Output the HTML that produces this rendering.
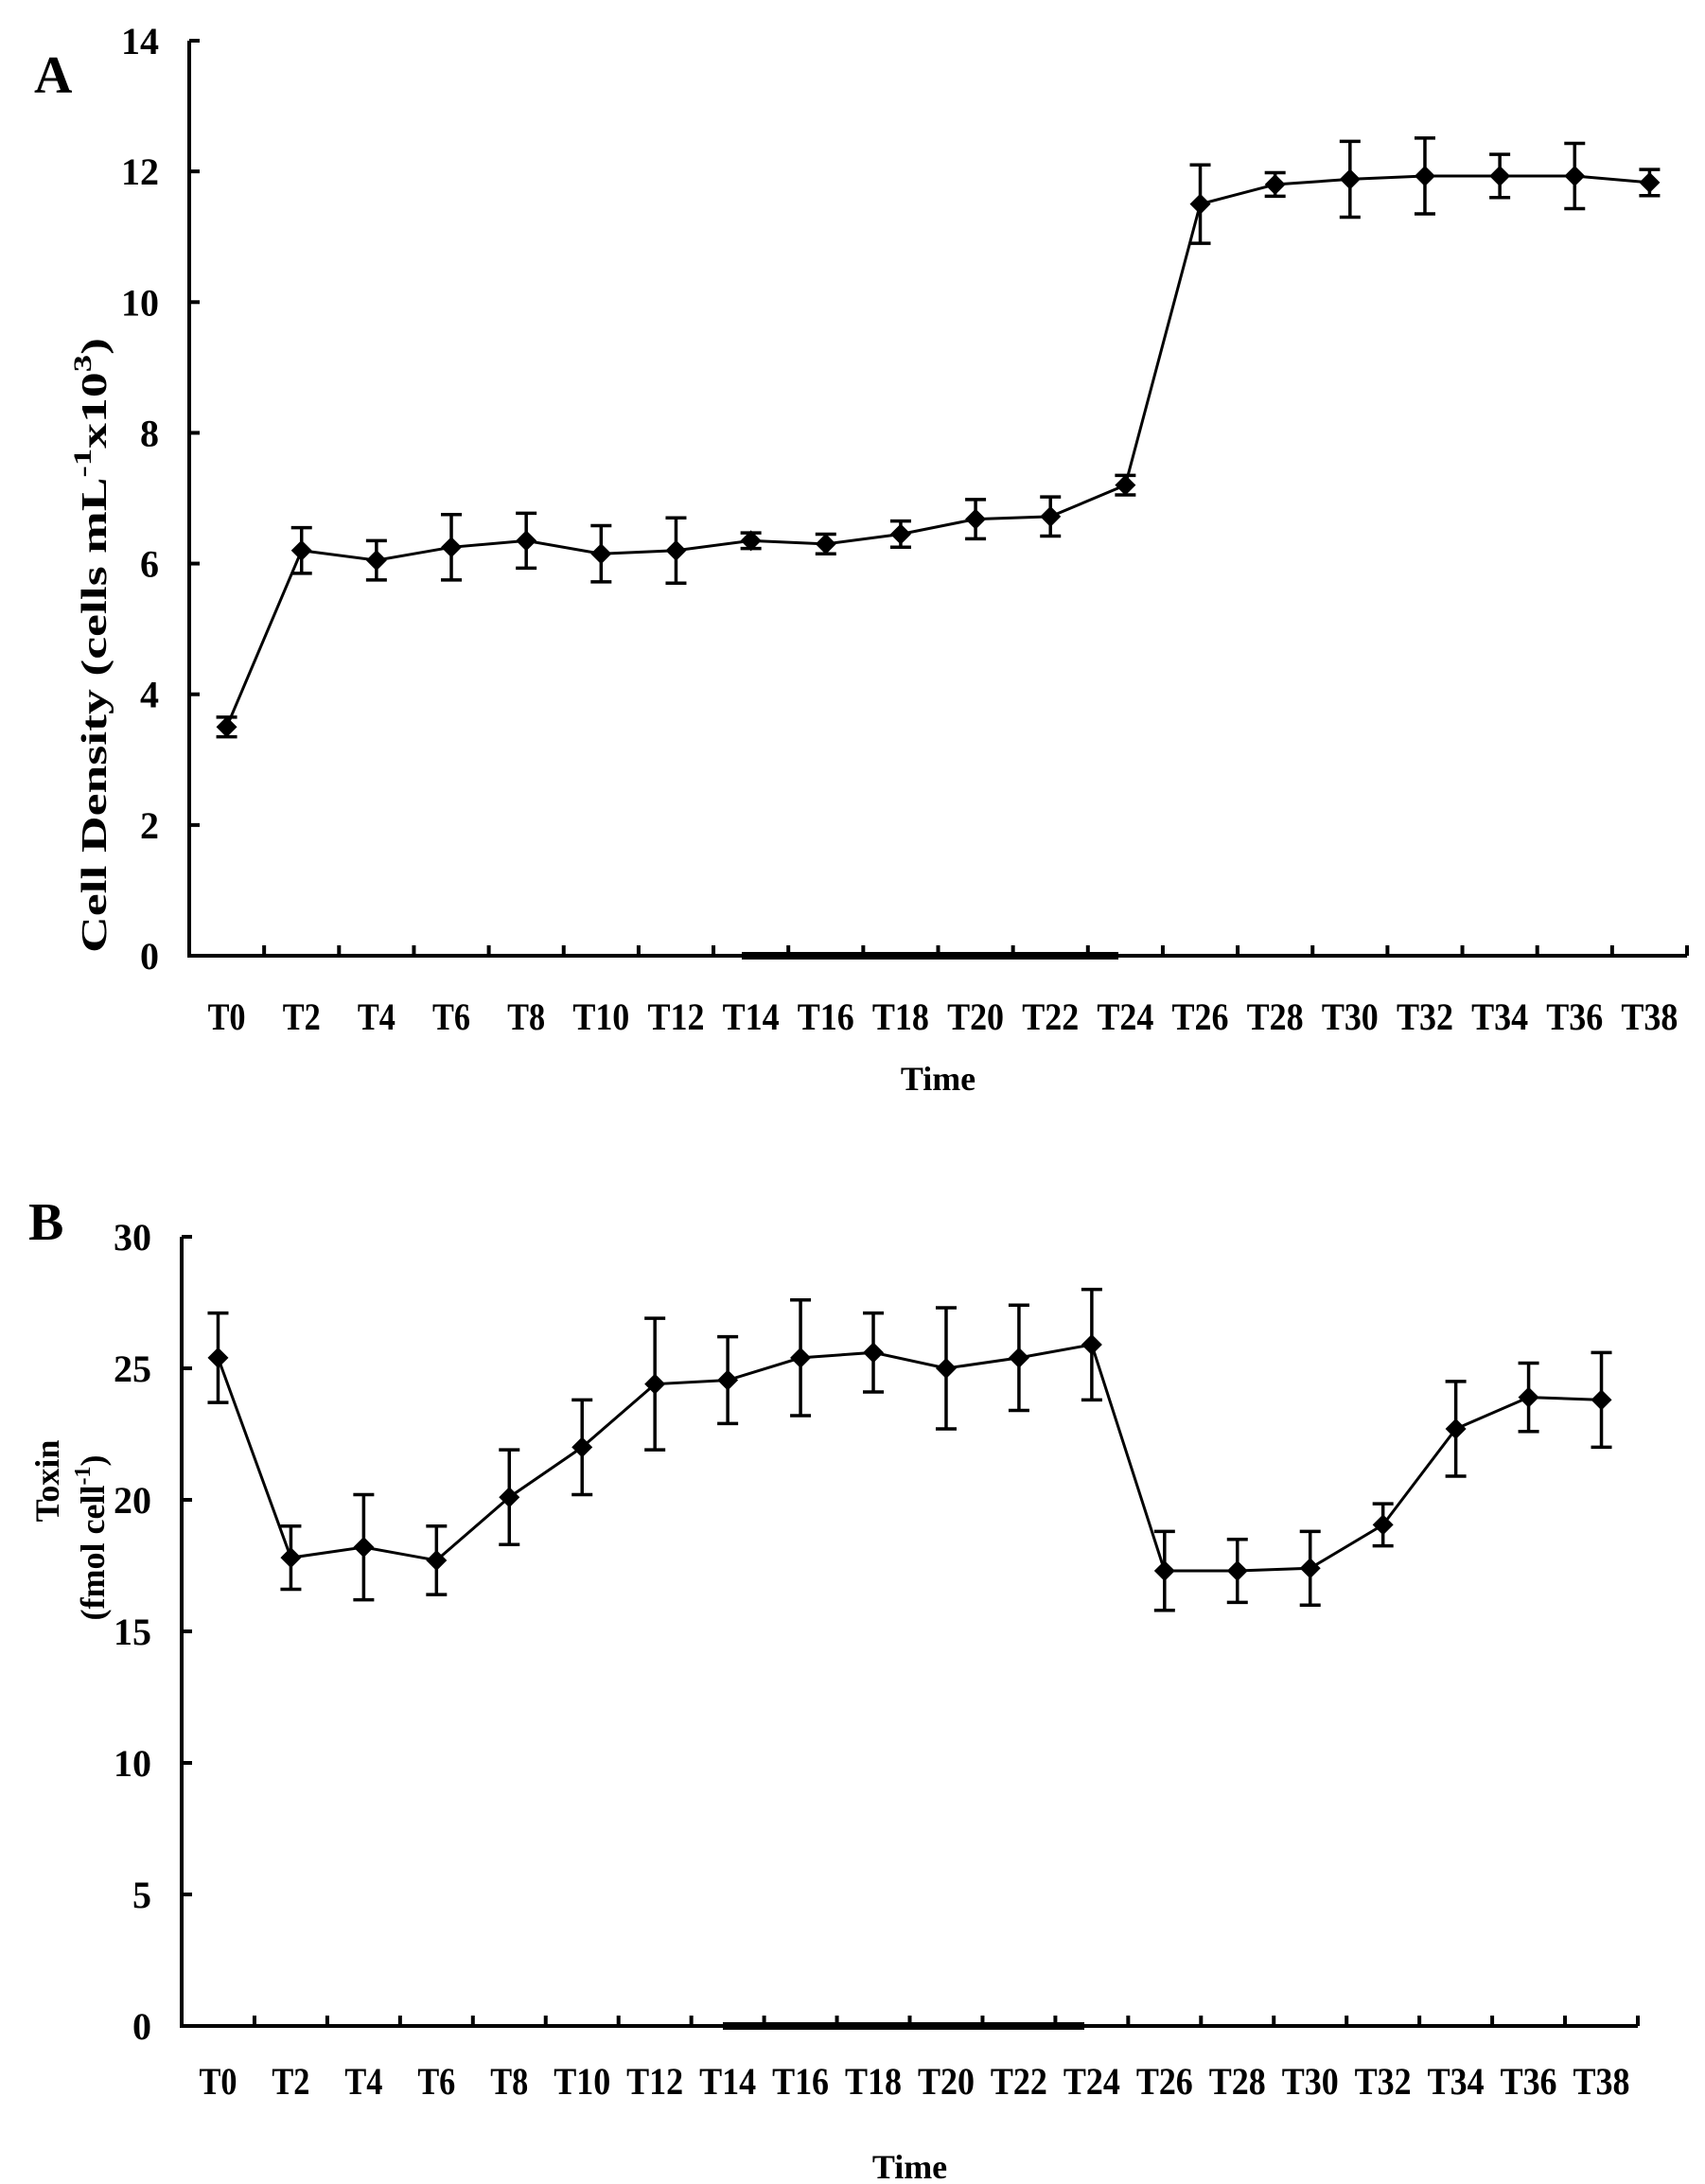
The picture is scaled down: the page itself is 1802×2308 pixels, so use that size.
<!DOCTYPE html>
<html><head><meta charset="utf-8"><style>
html,body{margin:0;padding:0;background:#fff}
svg{display:block}
text{font-family:"Liberation Serif",serif;font-weight:bold;fill:#000}
</style></head><body>
<svg id="fig" width="1802" height="2308" viewBox="0 0 1802 2308" xmlns="http://www.w3.org/2000/svg"></svg>
<script>
const categories = ["T0","T2","T4","T6","T8","T10","T12","T14","T16","T18","T20","T22","T24","T26","T28","T30","T32","T34","T36","T38"];
const densityValues = [3.5,6.2,6.05,6.25,6.35,6.15,6.2,6.35,6.3,6.45,6.68,6.72,7.2,11.5,11.8,11.88,11.93,11.93,11.93,11.83];
const densityErrors = [0.15,0.35,0.3,0.5,0.42,0.43,0.5,0.12,0.15,0.2,0.3,0.3,0.15,0.6,0.18,0.58,0.58,0.33,0.5,0.2];
const densityTicks = [0,2,4,6,8,10,12,14];
const toxinValues = [25.4,17.8,18.2,17.7,20.1,22.0,24.4,24.55,25.4,25.6,25.0,25.4,25.9,17.3,17.3,17.4,19.05,22.7,23.9,23.8];
const toxinErrors = [1.7,1.2,2.0,1.3,1.8,1.8,2.5,1.65,2.2,1.5,2.3,2.0,2.1,1.5,1.2,1.4,0.8,1.8,1.3,1.8];
const toxinTicks = [0,5,10,15,20,25,30];

const NS="http://www.w3.org/2000/svg";
const svg=document.getElementById('fig');
function mk(tag,attrs,parent){const e=document.createElementNS(NS,tag);for(const k in attrs)e.setAttribute(k,attrs[k]);(parent||svg).appendChild(e);return e;}

function panel(p){
  const g=mk('g',{});
  
  
  const n=categories.length, bw=(p.x1-p.x0)/n;
  const xs=i=>p.x0+bw*(i+0.5);
  const ys=v=>p.y0-(v-p.ymin)/(p.ymax-p.ymin)*(p.y0-p.y1);
  const ya=mk('line',{x1:p.x0,y1:p.y1,x2:p.x0,y2:p.y0+1.5,stroke:'#000','stroke-width':4},g);
  
  const xa=mk('line',{x1:p.x0-2,y1:p.y0,x2:p.x1,y2:p.y0,stroke:'#000','stroke-width':4},g);
  
  const sb=mk('line',{x1:p.barA,y1:p.y0,x2:p.barB,y2:p.y0,stroke:'#000','stroke-width':8},g);
  
  p.ticks.forEach(t=>{
    const y=ys(t);
    const tl=mk('line',{x1:p.x0,y1:y,x2:p.x0+11,y2:y,stroke:'#000','stroke-width':4},g);
    
    const tx=mk('text',{x:p.x0-32,y:y+14,'text-anchor':'end','font-size':40},g);
    tx.textContent=t;
    
  });
  for(let i=1;i<=n;i++){
    const x=p.x0+bw*i;
    const tl=mk('line',{x1:x,y1:p.y0,x2:x,y2:p.y0-11,stroke:'#000','stroke-width':4},g);
    
  }
  categories.forEach((c,i)=>{
    const tx=mk('text',{x:xs(i),y:p.labY,'text-anchor':'middle','font-size':40,'textLength':c.length*20,'lengthAdjust':'spacingAndGlyphs'},g);
    tx.textContent=c;
    
  });
  const pts=p.vals.map((v,i)=>xs(i)+','+ys(v)).join(' ');
  const pl=mk('polyline',{points:pts,fill:'none',stroke:'#000','stroke-width':3},g);
  
  p.vals.forEach((v,i)=>{
    const x=xs(i),y=ys(v),e=p.errs[i];
    const yt=ys(v+e),yb=ys(v-e);
    const eb=mk('path',{d:`M${x},${yt}V${yb}M${x-11},${yt}H${x+11}M${x-11},${yb}H${x+11}`,stroke:'#000','stroke-width':3.5,fill:'none'},g);
    
    const d=mk('polygon',{points:`${x},${y-11} ${x+11},${y} ${x},${y+11} ${x-11},${y}`,fill:'#000'},g);
    
  });
  const xt=mk('text',{x:(p.x0+p.x1)/2,y:p.timeY,'text-anchor':'middle','font-size':36},g);
  xt.textContent='Time';
  
}

panel({name:'panel-a-cell-density',x0:200,x1:1783,y0:1010,y1:43,ymin:0,ymax:14,ticks:densityTicks,vals:densityValues,errs:densityErrors,labY:1088,timeY:1152,barA:784,barB:1182});
panel({name:'panel-b-toxin',x0:192,x1:1731,y0:2141,y1:1307,ymin:0,ymax:30,ticks:toxinTicks,vals:toxinValues,errs:toxinErrors,labY:2213,timeY:2302,barA:764,barB:1146});
</script>
<svg style="position:absolute;left:0;top:0" width="1802" height="2308" xmlns="http://www.w3.org/2000/svg">
<text x="36" y="98" font-size="56" style="font-family:'Liberation Serif',serif;font-weight:bold">A</text>
<text x="30" y="1310" font-size="56" style="font-family:'Liberation Serif',serif;font-weight:bold">B</text>
<text transform="translate(112,682) rotate(-90)" text-anchor="middle" font-size="38" textLength="650" lengthAdjust="spacingAndGlyphs" style="font-family:'Liberation Serif',serif;font-weight:bold">Cell Density (cells mL<tspan dy="-16" font-size="26">-1</tspan><tspan dy="16">x10</tspan><tspan dy="-16" font-size="26">3</tspan><tspan dy="16">)</tspan></text>
<text transform="translate(62,1565) rotate(-90)" text-anchor="middle" font-size="36" style="font-family:'Liberation Serif',serif;font-weight:bold">Toxin</text>
<text transform="translate(110,1625) rotate(-90)" text-anchor="middle" font-size="36" style="font-family:'Liberation Serif',serif;font-weight:bold">(fmol cell<tspan dy="-15" font-size="24">-1</tspan><tspan dy="15">)</tspan></text>
</svg>
</body></html>
